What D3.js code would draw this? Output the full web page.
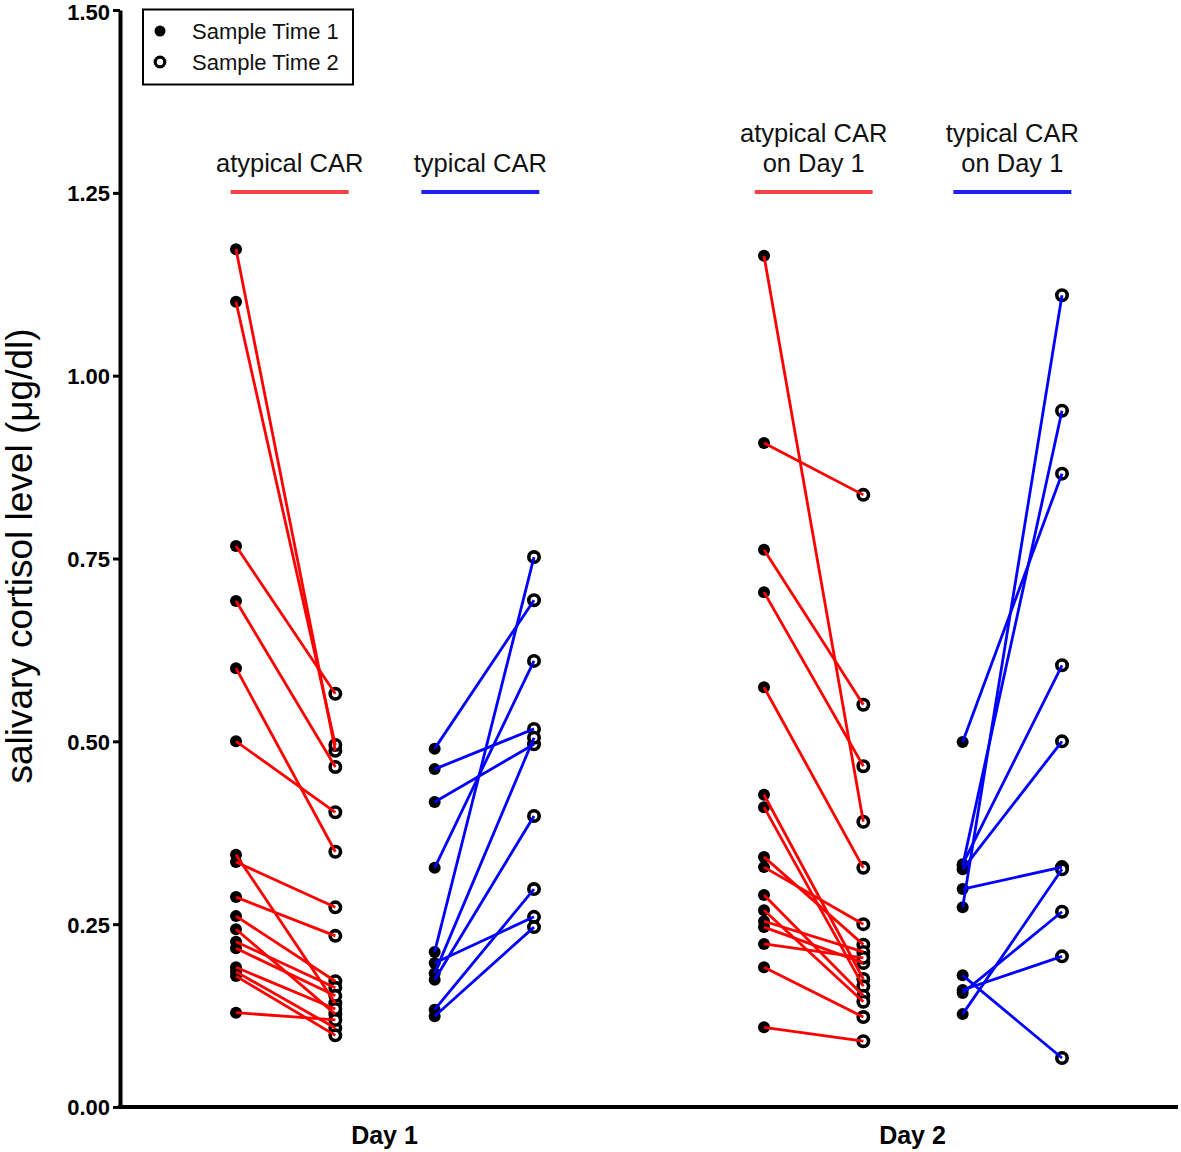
<!DOCTYPE html>
<html><head><meta charset="utf-8">
<script src="https://cdn.jsdelivr.net/npm/d3@7"></script>
<style>body{margin:0;background:#fff}svg{display:block}text{font-family:"Liberation Sans",Arial,sans-serif}</style>
</head><body><svg id="c" width="1181" height="1152"></svg>
<script>
const days = ["Day 1", "Day 2"];
const yTicks = [0, 0.25, 0.5, 0.75, 1.0, 1.25, 1.5];
const legendLabels = ["Sample Time 1", "Sample Time 2"];
const headerDay1 = [["atypical CAR"], ["typical CAR"]];
const headerDay2 = [["atypical CAR", "on Day 1"], ["typical CAR", "on Day 1"]];
const groupColors = ["#ff0000", "#0000ff"];
const headerColors = ["#f04545", "#1f1fee"];

// Day 1, atypical CAR
const d1AtypT1 = [1.173, 1.101, 0.767, 0.692, 0.600, 0.500, 0.345, 0.335, 0.287, 0.261, 0.243, 0.226, 0.217, 0.191, 0.185, 0.179, 0.129];
const d1AtypT2 = [0.487, 0.495, 0.565, 0.465, 0.349, 0.403, 0.142, 0.273, 0.234, 0.172, 0.127, 0.163, 0.152, 0.134, 0.108, 0.098, 0.119];
// Day 1, typical CAR
const d1TypT1 = [0.490, 0.462, 0.417, 0.327, 0.212, 0.197, 0.183, 0.174, 0.133, 0.124];
const d1TypT2 = [0.693, 0.517, 0.496, 0.610, 0.752, 0.260, 0.505, 0.398, 0.298, 0.246];
// Day 2, atypical CAR on Day 1
const d2AtypT1 = [1.164, 0.908, 0.762, 0.704, 0.574, 0.427, 0.410, 0.342, 0.328, 0.290, 0.269, 0.254, 0.246, 0.223, 0.191, 0.109];
const d2AtypT2 = [0.390, 0.837, 0.550, 0.466, 0.327, 0.175, 0.165, 0.222, 0.250, 0.152, 0.144, 0.212, 0.197, 0.204, 0.123, 0.090];
// Day 2, typical CAR on Day 1
const d2TypT1 = [0.499, 0.332, 0.330, 0.325, 0.298, 0.273, 0.180, 0.160, 0.156, 0.127];
const d2TypT2 = [0.866, 0.604, 0.952, 0.500, 0.328, 1.110, 0.067, 0.206, 0.267, 0.325];

const panels = [
  {day: "Day 1", group: 0, t1: d1AtypT1, t2: d1AtypT2, header: headerDay1[0]},
  {day: "Day 1", group: 1, t1: d1TypT1, t2: d1TypT2, header: headerDay1[1]},
  {day: "Day 2", group: 0, t1: d2AtypT1, t2: d2AtypT2, header: headerDay2[0]},
  {day: "Day 2", group: 1, t1: d2TypT1, t2: d2TypT2, header: headerDay2[1]}
];

const svg = d3.select("#c");
const x = d3.scalePoint().domain(days).range([120, 1176]).padding(0.5);
const inner = d3.scalePoint().domain(["0-1", "0-2", "1-1", "1-2"]).range([-148, 150]);
const y = d3.scaleLinear().domain([0, 1.5]).range([1107, 10]);

// axes
const yAxis = svg.append("g").attr("transform", "translate(120,0)")
  .call(d3.axisLeft(y).tickValues(yTicks).tickFormat(d3.format(".2f")).tickSize(7).tickSizeOuter(0));
yAxis.select(".domain").attr("stroke", "#000").attr("stroke-width", 4);
yAxis.selectAll(".tick line").attr("stroke-width", 3);
yAxis.selectAll(".tick text").attr("font-size", 22).attr("font-weight", "bold")
  .attr("fill", "#000").attr("x", -10).attr("dy", "0.36em")
  .attr("y", d => d === 1.5 ? 2 : 0)
  .style("font-family", "'Liberation Sans',Arial,sans-serif");

const xAxis = svg.append("g").attr("transform", "translate(0,1107)")
  .call(d3.axisBottom(x).tickSize(0).tickSizeOuter(0));
xAxis.select(".domain").attr("stroke", "#000").attr("stroke-width", 4).attr("d", "M118,0H1178");
xAxis.selectAll(".tick text").attr("font-size", 25).attr("font-weight", "bold").attr("fill", "#000").attr("dy", 0).attr("y", 37);

svg.append("text").attr("transform", "translate(32,556) rotate(-90)").attr("text-anchor", "middle")
  .attr("font-size", 37).attr("fill", "#000").text("salivary cortisol level (μg/dl)");

// panels
panels.forEach(p => {
  const x1 = x(p.day) + inner(p.group + "-1");
  const x2 = x(p.day) + inner(p.group + "-2");
  const cx = (x1 + x2) / 2 + (p.day === "Day 1" ? (p.group === 0 ? 4 : -4) : 0);
  const g = svg.append("g");
  const lineCount = p.header.length;
  p.header.forEach((t, i) => {
    g.append("text").attr("x", cx).attr("y", 172 - (lineCount - 1 - i) * 30)
      .attr("text-anchor", "middle").attr("font-size", 25.5).attr("fill", "#111").text(t);
  });
  g.append("line").attr("x1", cx - 59).attr("x2", cx + 59).attr("y1", 192).attr("y2", 192)
    .attr("stroke", headerColors[p.group]).attr("stroke-width", 4);
  g.selectAll("circle.t1").data(p.t1).join("circle").attr("class", "t1")
    .attr("cx", x1).attr("cy", d => y(d)).attr("r", 6).attr("fill", "#000");
  g.selectAll("circle.t2").data(p.t2).join("circle").attr("class", "t2")
    .attr("cx", x2).attr("cy", d => y(d)).attr("r", 5.2).attr("fill", "#fff").attr("stroke", "#000").attr("stroke-width", 3.6);
  g.selectAll("line.pair").data(p.t1.map((v, i) => [v, p.t2[i]])).join("line").attr("class", "pair")
    .attr("x1", x1).attr("y1", d => y(d[0])).attr("x2", x2).attr("y2", d => y(d[1]))
    .attr("stroke", groupColors[p.group]).attr("stroke-width", 2.8);
});

// legend
const lg = svg.append("g");
lg.append("rect").attr("x", 143).attr("y", 9.5).attr("width", 210).attr("height", 75)
  .attr("fill", "#fff").attr("stroke", "#000").attr("stroke-width", 2);
lg.append("circle").attr("cx", 160).attr("cy", 31).attr("r", 5.5).attr("fill", "#000");
lg.append("circle").attr("cx", 160).attr("cy", 62).attr("r", 4.8).attr("fill", "#fff").attr("stroke", "#000").attr("stroke-width", 3.2);
legendLabels.forEach((t, i) => {
  lg.append("text").attr("x", 192).attr("y", 38.5 + i * 31).attr("font-size", 22).attr("fill", "#111").text(t);
});
</script></body></html>
